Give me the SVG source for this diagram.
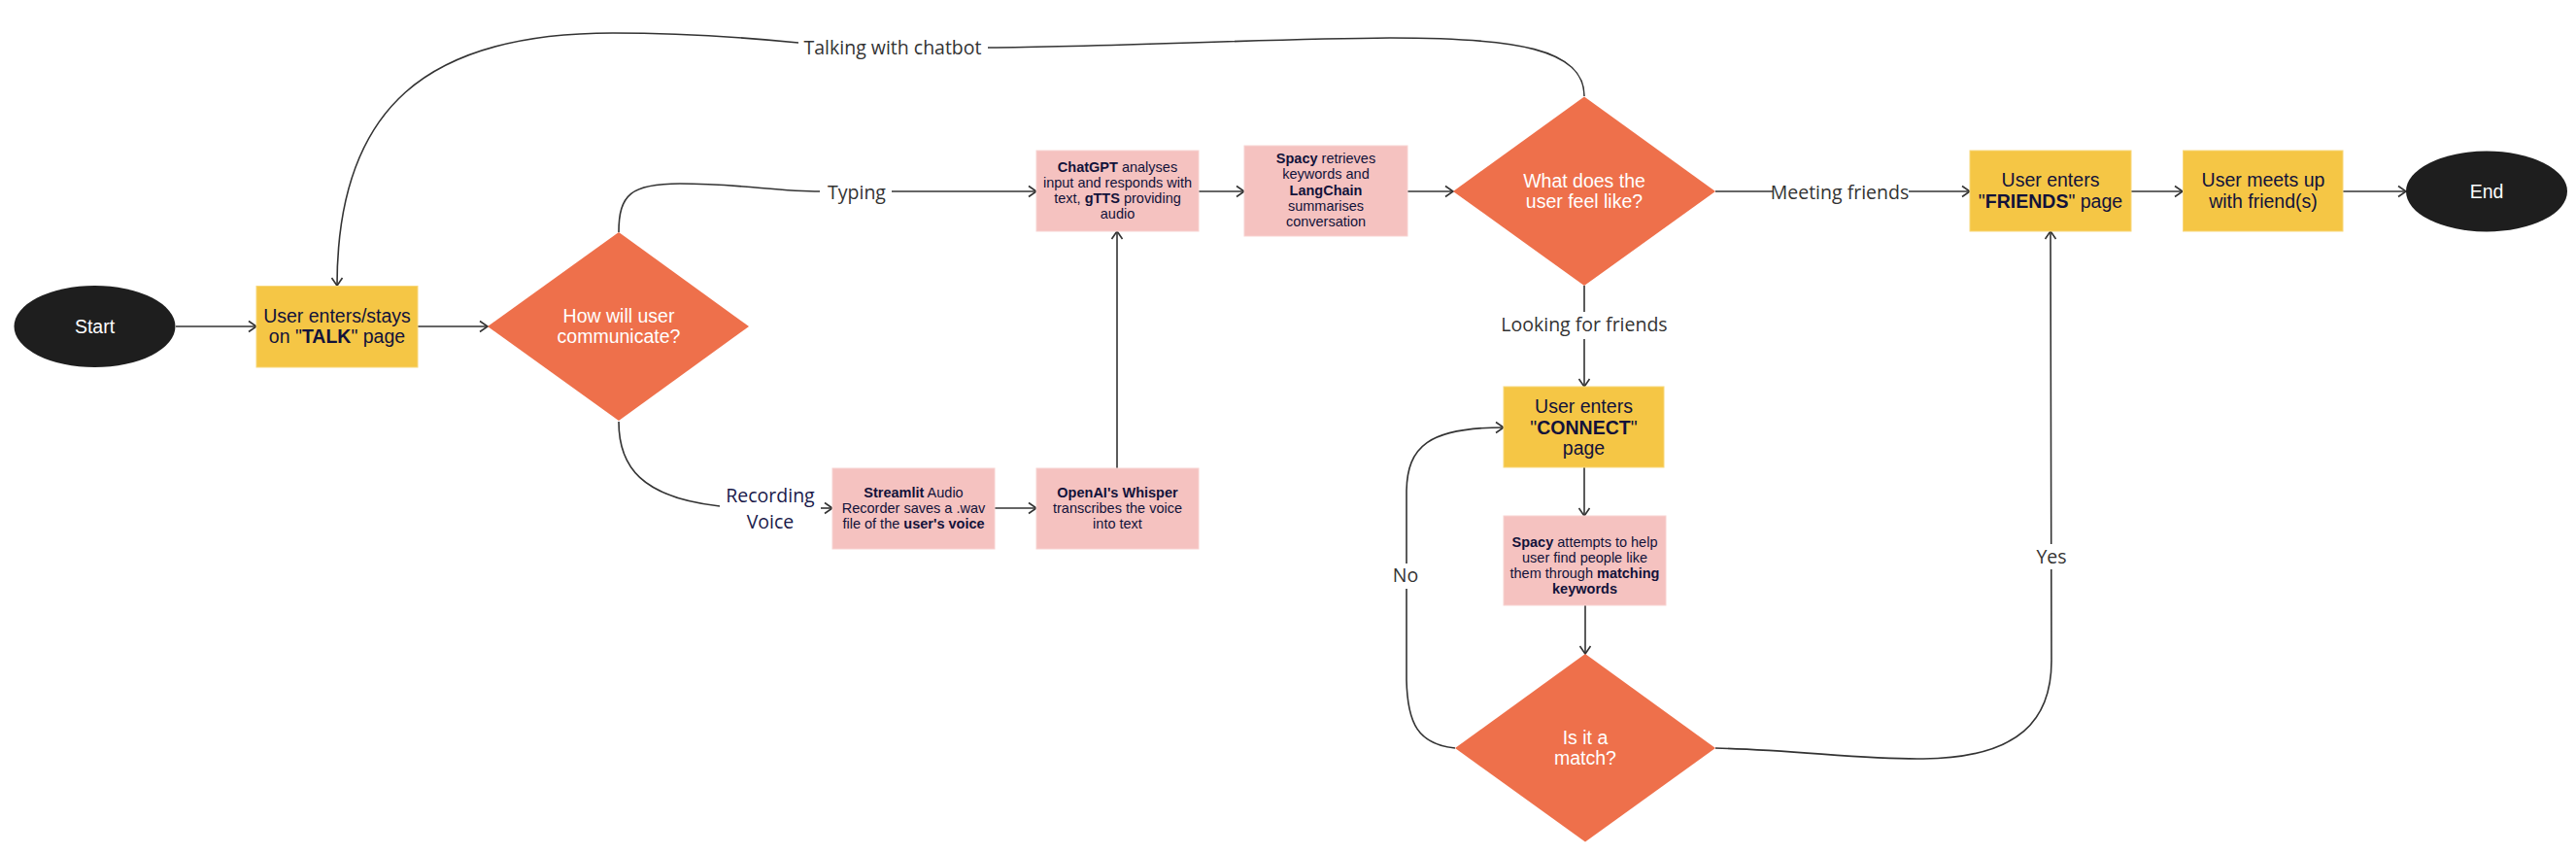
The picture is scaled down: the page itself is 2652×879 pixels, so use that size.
<svg xmlns="http://www.w3.org/2000/svg" width="2652" height="879" viewBox="0 0 2652 879">
<defs>
<marker id="arr" markerUnits="userSpaceOnUse" markerWidth="12" markerHeight="14" refX="10" refY="7" orient="auto">
<path d="M2,1.5 L10,7 L2,12.5" fill="none" stroke="#333" stroke-width="1.6"/>
</marker>
<style>
.bg{fill:#ffffff}
.ell{fill:#1e1e1e}
.yel{fill:#f5c645;stroke:#f8d77a;stroke-width:1}
.pink{fill:#f5c2c0;stroke:#f8d3d1;stroke-width:1}
.dia{fill:#ee704b}
.wt{font-family:"Liberation Sans",Arial,sans-serif;font-size:19.5px;fill:#ffffff;text-anchor:middle}
.yt{font-family:"Liberation Sans",Arial,sans-serif;font-size:19.5px;fill:#12123a;text-anchor:middle}
.pt{font-family:"Liberation Sans",Arial,sans-serif;font-size:14.5px;fill:#12123a;text-anchor:middle}
.b{font-weight:bold}
.lbl{font-family:"Open Sans","Noto Sans",sans-serif;font-size:19.5px;fill:#333333;text-anchor:middle}
.lbln{font-family:"Open Sans","Noto Sans",sans-serif;font-size:19.5px;fill:#1a1a4a;text-anchor:middle}
.c{fill:none;stroke:#333;stroke-width:1.6}
.ca{fill:none;stroke:#333;stroke-width:1.6;marker-end:url(#arr)}
</style>
</defs>
<rect class="bg" x="0" y="0" width="2652" height="879"/>

<g id="connectors">
<path class="ca" d="M181,336 L264,336"/>
<path class="ca" d="M430,336 L502,336"/>
<path class="c" d="M1631,99 C1631,50 1560,39 1431,39 C1300,40 1150,48 1017,49"/>
<path class="ca" d="M822,44 C740,36 680,34 631,34 C440,34 347,110 347,294"/>
<path class="c" d="M637,239 C637,200 650,189 700,189 C760,189 800,197 844,197"/>
<path class="ca" d="M918,197 L1067,197"/>
<path class="c" d="M637,434 C637,480 660,512 741,521"/>
<path class="ca" d="M845,523 L857,523"/>
<path class="ca" d="M1024,523 L1067,523"/>
<path class="ca" d="M1150,482 L1150,238"/>
<path class="ca" d="M1234,197 L1281,197"/>
<path class="ca" d="M1449,197 L1496,197"/>
<path class="ca" d="M1766,197 L2028,197"/>
<path class="ca" d="M2194,197 L2247,197"/>
<path class="ca" d="M2412,197 L2477,197"/>
<path class="ca" d="M1631,294 L1631,398"/>
<path class="ca" d="M1631,481 L1631,531"/>
<path class="ca" d="M1632,623 L1632,673"/>
<path class="ca" d="M1498,770 C1460,766 1449,745 1448,700 L1448,505 C1449,460 1470,440 1548,440"/>
<path class="ca" d="M1766,770 C1850,772 1920,782 1980,781 C2080,780 2112,740 2112,680 L2111,238"/>
<rect class="bg" x="1825" y="183" width="140" height="28"/>
<rect class="bg" x="1546" y="321" width="170" height="28"/>
<rect class="bg" x="1436" y="580" width="24" height="26"/>
<rect class="bg" x="2097" y="560" width="31" height="26"/>
<text class="lbl" x="919" y="56">Talking with chatbot</text>
<text class="lbl" x="882" y="205">Typing</text>
<text class="lbln" x="793" y="517">Recording</text>
<text class="lbln" x="793" y="544">Voice</text>
<text class="lbl" x="1894" y="205">Meeting friends</text>
<text class="lbl" x="1631" y="341">Looking for friends</text>
<text class="lbl" x="1447" y="599">No</text>
<text class="lbl" x="2112" y="580">Yes</text>
</g>

<g id="start">
<ellipse class="ell" cx="97.5" cy="336" rx="83" ry="42"/>
<text class="wt" x="97.5" y="343">Start</text>
</g>

<g id="talk">
<rect class="yel" x="264" y="294.5" width="166" height="83.5"/>
<text class="yt" x="347" y="331.7">User enters/stays</text>
<text class="yt" x="347" y="353.3">on "<tspan class="b">TALK</tspan>" page</text>
</g>

<g id="communicate">
<polygon class="dia" points="637,239 771,336 637,433 502,336"/>
<text class="wt" x="637" y="331.7">How will user</text>
<text class="wt" x="637" y="353.3">communicate?</text>
</g>

<g id="chatgpt">
<rect class="pink" x="1067" y="155" width="167" height="83"/>
<text class="pt" x="1150.5" y="176.7"><tspan class="b">ChatGPT</tspan> analyses</text>
<text class="pt" x="1150.5" y="193.3">input and responds with</text>
<text class="pt" x="1150.5" y="209.3">text, <tspan class="b">gTTS</tspan> providing</text>
<text class="pt" x="1150.5" y="225">audio</text>
</g>

<g id="spacy1">
<rect class="pink" x="1281" y="150" width="168" height="93"/>
<text class="pt" x="1365" y="168.3"><tspan class="b">Spacy</tspan> retrieves</text>
<text class="pt" x="1365" y="184.3">keywords and</text>
<text class="pt b" x="1365" y="201">LangChain</text>
<text class="pt" x="1365" y="216.7">summarises</text>
<text class="pt" x="1365" y="233.3">conversation</text>
</g>

<g id="feel">
<polygon class="dia" points="1631,99.5 1766,197 1631,294 1496,197"/>
<text class="wt" x="1631" y="192.7">What does the</text>
<text class="wt" x="1631" y="214.3">user feel like?</text>
</g>

<g id="friends">
<rect class="yel" x="2028" y="155" width="166" height="83"/>
<text class="yt" x="2111" y="192.2">User enters</text>
<text class="yt" x="2111" y="213.8">"<tspan class="b">FRIENDS</tspan>" page</text>
</g>

<g id="meets">
<rect class="yel" x="2247.5" y="155" width="164.5" height="83"/>
<text class="yt" x="2330" y="192.2">User meets up</text>
<text class="yt" x="2330" y="213.8">with friend(s)</text>
</g>

<g id="end">
<ellipse class="ell" cx="2560" cy="197" rx="83" ry="41.5"/>
<text class="wt" x="2560" y="204">End</text>
</g>

<g id="streamlit">
<rect class="pink" x="857" y="482" width="167" height="83"/>
<text class="pt" x="940.5" y="511.7"><tspan class="b">Streamlit</tspan> Audio</text>
<text class="pt" x="940.5" y="528.3">Recorder saves a .wav</text>
<text class="pt" x="940.5" y="544.3">file of the <tspan class="b">user's voice</tspan></text>
</g>

<g id="whisper">
<rect class="pink" x="1067" y="482" width="167" height="83"/>
<text class="pt b" x="1150.5" y="511.7">OpenAI's Whisper</text>
<text class="pt" x="1150.5" y="528.3">transcribes the voice</text>
<text class="pt" x="1150.5" y="544.3">into text</text>
</g>

<g id="connect">
<rect class="yel" x="1548" y="398" width="165" height="83"/>
<text class="yt" x="1630.5" y="424.9">User enters</text>
<text class="yt" x="1630.5" y="446.5">"<tspan class="b">CONNECT</tspan>"</text>
<text class="yt" x="1630.5" y="468.1">page</text>
</g>

<g id="spacy2">
<rect class="pink" x="1548" y="531" width="167" height="92"/>
<text class="pt" x="1631.5" y="562.5"><tspan class="b">Spacy</tspan> attempts to help</text>
<text class="pt" x="1631.5" y="579">user find people like</text>
<text class="pt" x="1631.5" y="595">them through <tspan class="b">matching</tspan></text>
<text class="pt b" x="1631.5" y="611.3">keywords</text>
</g>

<g id="match">
<polygon class="dia" points="1632,673 1766,770 1632,866.5 1498,770"/>
<text class="wt" x="1632" y="765.5">Is it a</text>
<text class="wt" x="1632" y="787">match?</text>
</g>
</svg>
